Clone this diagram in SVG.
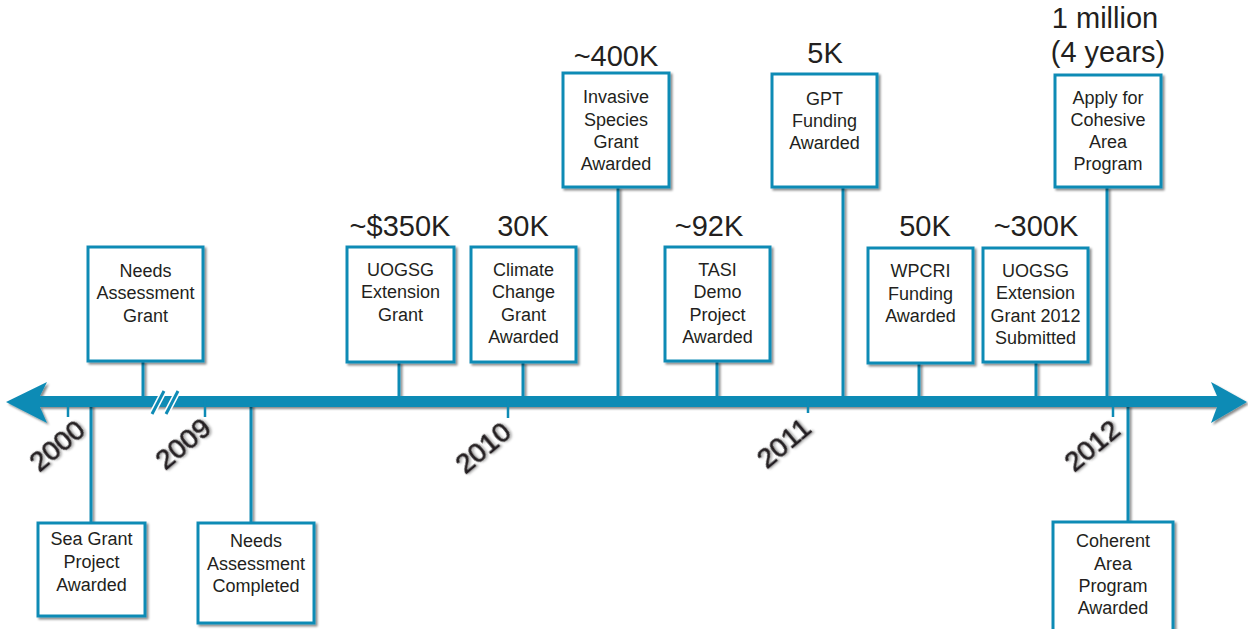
<svg xmlns="http://www.w3.org/2000/svg" width="1248" height="629" viewBox="0 0 1248 629">
<defs>
<filter id="sh" x="-10%" y="-10%" width="130%" height="130%">
<feDropShadow dx="2" dy="2" stdDeviation="1.3" flood-color="#000" flood-opacity="0.45"/>
</filter>
<filter id="tsh" x="-10%" y="-10%" width="130%" height="130%">
<feDropShadow dx="1.5" dy="1.5" stdDeviation="1.2" flood-color="#000" flood-opacity="0.35"/>
</filter>
<style>
.box{fill:#fff;stroke:#0e8bb5;stroke-width:3;filter:url(#sh)}
.lbl{font-family:"Liberation Sans",Arial,sans-serif;font-size:18px;fill:#231f20;text-anchor:middle}
.amt{font-family:"Liberation Sans",Arial,sans-serif;font-size:29px;fill:#231f20;text-anchor:middle}
.yr{font-family:"Liberation Sans",Arial,sans-serif;font-size:28px;fill:#231f20;stroke:#231f20;stroke-width:0.6;text-anchor:end;filter:url(#tsh)}
.con{stroke:#0e8bb5;stroke-width:3;fill:none}
.tick{stroke:#0e8bb5;stroke-width:2.5;fill:none}
</style>
</defs>
<rect width="1248" height="629" fill="#fff"/>

<g id="connectors" filter="url(#sh)">
<line class="con" x1="143" y1="361" x2="143" y2="398"/>
<line class="con" x1="399" y1="362" x2="399" y2="398"/>
<line class="con" x1="523" y1="362" x2="523" y2="398"/>
<line class="con" x1="618" y1="187" x2="618" y2="398"/>
<line class="con" x1="717" y1="361" x2="717" y2="398"/>
<line class="con" x1="843" y1="187" x2="843" y2="398"/>
<line class="con" x1="919" y1="363" x2="919" y2="398"/>
<line class="con" x1="1036" y1="362" x2="1036" y2="398"/>
<line class="con" x1="1107" y1="187" x2="1107" y2="398"/>
<line class="con" x1="91" y1="405" x2="91" y2="523"/>
<line class="con" x1="251" y1="405" x2="251" y2="523"/>
<line class="con" x1="1128" y1="405" x2="1128" y2="522"/>
</g>

<g id="timeline">
<path d="M6,402 L47,382 L40,396 L1217,396 L1211,382 L1247,402 L1211,423 L1217,407 L40,407 L47,423 Z" fill="#0e8bb5" filter="url(#sh)"/>
<line class="tick" x1="68" y1="399" x2="68" y2="417"/>
<line class="tick" x1="205" y1="399" x2="205" y2="417"/>
<line class="tick" x1="508" y1="399" x2="508" y2="418"/>
<line class="tick" x1="808" y1="399" x2="808" y2="413"/>
<line class="tick" x1="1113" y1="399" x2="1113" y2="417"/>
<line x1="152" y1="414" x2="164" y2="391" stroke="#fff" stroke-width="6"/>
<line x1="166" y1="414" x2="178" y2="391" stroke="#fff" stroke-width="6"/>
<line x1="152" y1="414" x2="164" y2="391" stroke="#0e8bb5" stroke-width="3"/>
<line x1="166" y1="414" x2="178" y2="391" stroke="#0e8bb5" stroke-width="3"/>
<text class="yr" transform="translate(87,433) rotate(-40)">2000</text>
<text class="yr" transform="translate(213,431) rotate(-40)">2009</text>
<text class="yr" transform="translate(513,435) rotate(-40)">2010</text>
<text class="yr" transform="translate(813,431) rotate(-40)">2011</text>
<text class="yr" transform="translate(1122,433) rotate(-40)">2012</text>
</g>

<g id="n1">
<rect class="box" x="88" y="247" width="115" height="114"/>
<text class="lbl" x="145.5" y="277">Needs</text>
<text class="lbl" x="145.5" y="299">Assessment</text>
<text class="lbl" x="145.5" y="322">Grant</text>
</g>

<g id="n2">
<text class="amt" x="400" y="236">~$350K</text>
<rect class="box" x="347" y="247" width="107" height="115"/>
<text class="lbl" x="400.5" y="276">UOGSG</text>
<text class="lbl" x="400.5" y="298">Extension</text>
<text class="lbl" x="400.5" y="321">Grant</text>
</g>

<g id="n3">
<text class="amt" x="523" y="236">30K</text>
<rect class="box" x="471" y="247" width="105" height="115"/>
<text class="lbl" x="523.5" y="276">Climate</text>
<text class="lbl" x="523.5" y="298">Change</text>
<text class="lbl" x="523.5" y="321">Grant</text>
<text class="lbl" x="523.5" y="343">Awarded</text>
</g>

<g id="n4">
<text class="amt" x="616" y="66">~400K</text>
<rect class="box" x="563" y="73" width="106" height="114"/>
<text class="lbl" x="616" y="103">Invasive</text>
<text class="lbl" x="616" y="126">Species</text>
<text class="lbl" x="616" y="148">Grant</text>
<text class="lbl" x="616" y="170">Awarded</text>
</g>

<g id="n5">
<text class="amt" x="709" y="236">~92K</text>
<rect class="box" x="665" y="247" width="105" height="114"/>
<text class="lbl" x="717.5" y="276">TASI</text>
<text class="lbl" x="717.5" y="298">Demo</text>
<text class="lbl" x="717.5" y="321">Project</text>
<text class="lbl" x="717.5" y="343">Awarded</text>
</g>

<g id="n6">
<text class="amt" x="825" y="63">5K</text>
<rect class="box" x="772" y="74" width="105" height="113"/>
<text class="lbl" x="824.5" y="105">GPT</text>
<text class="lbl" x="824.5" y="127">Funding</text>
<text class="lbl" x="824.5" y="149">Awarded</text>
</g>

<g id="n7">
<text class="amt" x="925" y="236">50K</text>
<rect class="box" x="868" y="248" width="105" height="115"/>
<text class="lbl" x="920.5" y="277">WPCRI</text>
<text class="lbl" x="920.5" y="300">Funding</text>
<text class="lbl" x="920.5" y="322">Awarded</text>
</g>

<g id="n8">
<text class="amt" x="1036" y="236">~300K</text>
<rect class="box" x="983" y="248" width="105" height="114"/>
<text class="lbl" x="1035.5" y="277">UOGSG</text>
<text class="lbl" x="1035.5" y="299">Extension</text>
<text class="lbl" x="1035.5" y="322">Grant 2012</text>
<text class="lbl" x="1035.5" y="344">Submitted</text>
</g>

<g id="n9">
<text class="amt" x="1105" y="28">1 million</text>
<text class="amt" x="1108" y="62">(4 years)</text>
<rect class="box" x="1055" y="75" width="106" height="112"/>
<text class="lbl" x="1108" y="104">Apply for</text>
<text class="lbl" x="1108" y="126">Cohesive</text>
<text class="lbl" x="1108" y="148">Area</text>
<text class="lbl" x="1108" y="170">Program</text>
</g>

<g id="n10">
<rect class="box" x="38" y="523" width="107" height="93"/>
<text class="lbl" x="91.5" y="545">Sea Grant</text>
<text class="lbl" x="91.5" y="568">Project</text>
<text class="lbl" x="91.5" y="591">Awarded</text>
</g>

<g id="n11">
<rect class="box" x="198" y="523" width="116" height="100"/>
<text class="lbl" x="256" y="547">Needs</text>
<text class="lbl" x="256" y="570">Assessment</text>
<text class="lbl" x="256" y="592">Completed</text>
</g>

<g id="n12">
<rect class="box" x="1053" y="522" width="120" height="120"/>
<text class="lbl" x="1113" y="547">Coherent</text>
<text class="lbl" x="1113" y="570">Area</text>
<text class="lbl" x="1113" y="592">Program</text>
<text class="lbl" x="1113" y="614">Awarded</text>
</g>
</svg>
